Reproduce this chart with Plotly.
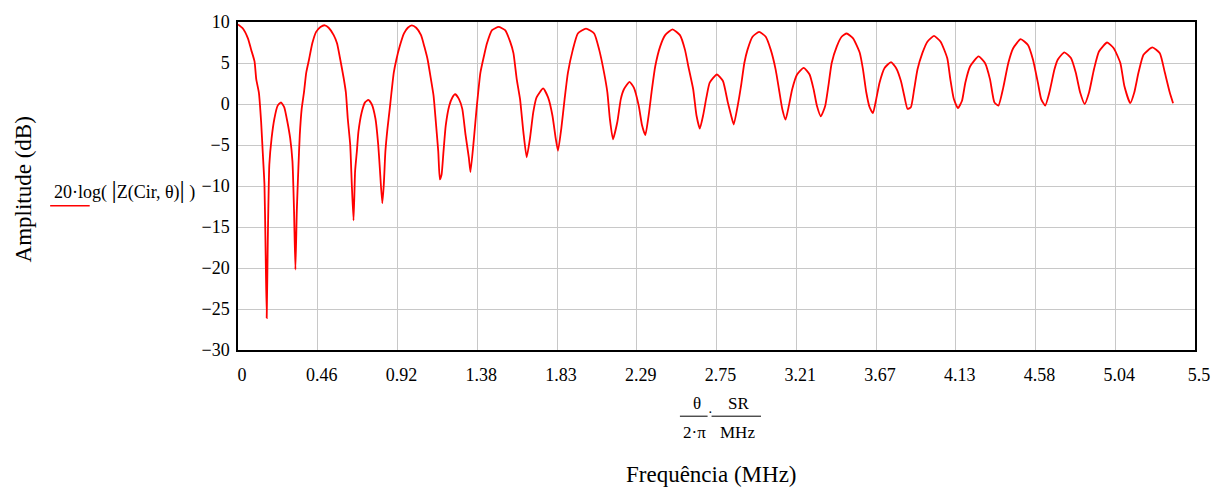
import plotly.graph_objects as go

freq = [0.000, 0.028, 0.057, 0.076, 0.095, 0.105, 0.120, 0.133, 0.142, 0.152, 0.158, 0.165, 0.171, 0.180, 0.193,
        0.209, 0.228, 0.247, 0.266, 0.284, 0.300, 0.313, 0.322, 0.330, 0.338, 0.347, 0.355, 0.366, 0.379, 0.392,
        0.408, 0.427, 0.449, 0.474, 0.499, 0.521, 0.550, 0.569, 0.588, 0.607, 0.620, 0.631, 0.645, 0.654, 0.664,
        0.673, 0.683, 0.692, 0.711, 0.730, 0.749, 0.768, 0.790, 0.806, 0.815, 0.829, 0.838, 0.847, 0.859, 0.872,
        0.882, 0.895, 0.910, 0.929, 0.954, 0.976, 0.999, 1.024, 1.052, 1.071, 1.090, 1.109, 1.124, 1.137, 1.151,
        1.160, 1.170, 1.181, 1.194, 1.214, 1.232, 1.248, 1.270, 1.289, 1.308, 1.327, 1.336, 1.356, 1.371, 1.393,
        1.413, 1.431, 1.460, 1.498, 1.535, 1.564, 1.583, 1.602, 1.621, 1.640, 1.659, 1.678, 1.697, 1.716, 1.754,
        1.782, 1.807, 1.826, 1.839, 1.858, 1.877, 1.896, 1.924, 1.953, 2.000, 2.047, 2.076, 2.104, 2.123, 2.137,
        2.155, 2.180, 2.200, 2.218, 2.250, 2.275, 2.303, 2.322, 2.341, 2.360, 2.379, 2.398, 2.426, 2.455, 2.497,
        2.540, 2.569, 2.588, 2.616, 2.635, 2.654, 2.673, 2.692, 2.711, 2.752, 2.787, 2.815, 2.834, 2.849, 2.872,
        2.891, 2.910, 2.928, 2.957, 2.995, 3.033, 3.062, 3.090, 3.109, 3.128, 3.147, 3.166, 3.185, 3.213, 3.251,
        3.285, 3.308, 3.327, 3.350, 3.375, 3.393, 3.412, 3.441, 3.469, 3.498, 3.535, 3.574, 3.592, 3.611, 3.630,
        3.649, 3.668, 3.687, 3.716, 3.753, 3.782, 3.810, 3.829, 3.848, 3.867, 3.886, 3.905, 3.933, 3.962, 4.000,
        4.038, 4.076, 4.094, 4.114, 4.138, 4.161, 4.180, 4.208, 4.256, 4.293, 4.322, 4.347, 4.370, 4.398, 4.427,
        4.455, 4.498, 4.540, 4.569, 4.597, 4.616, 4.639, 4.663, 4.692, 4.711, 4.749, 4.787, 4.815, 4.840, 4.866,
        4.891, 4.919, 4.948, 4.995, 5.033, 5.071, 5.094, 5.128, 5.151, 5.175, 5.204, 5.255, 5.298, 5.327, 5.355,
        5.374]

amp_db = [9.7, 9.2, 8.0, 6.6, 5.2, 3.0, 1.4, -2.2, -5.8, -9.8, -17.0, -26.1, -17.0, -7.4, -4.2,
          -1.8, -0.2, 0.2, -0.4, -2.2, -4.2, -7.0, -13.0, -20.2, -13.0, -7.8, -3.8, -0.6, 1.4, 3.8,
          5.4, 7.4, 8.8, 9.4, 9.6, 9.3, 8.4, 7.4, 5.4, 3.2, 1.4, -1.8, -5.0, -9.8, -14.2,
          -8.2, -5.8, -3.4, -1.0, 0.2, 0.5, 0.0, -1.8, -5.0, -7.8, -12.1, -9.8, -5.8, -3.0, -0.6,
          1.4, 3.8, 5.4, 7.0, 8.6, 9.3, 9.6, 9.3, 8.4, 7.0, 5.4, 3.0, 1.0, -2.2, -5.8,
          -9.2, -8.6, -5.8, -2.6, -0.2, 0.8, 1.2, 0.6, -0.6, -3.8, -6.6, -8.3, -4.2, -0.6, 3.8,
          5.8, 7.4, 9.0, 9.4, 9.0, 7.6, 6.2, 3.0, 0.6, -3.4, -6.5, -4.2, -1.0, 0.8, 1.9,
          0.8, -1.4, -4.2, -5.7, -3.0, 0.6, 3.8, 6.6, 8.6, 9.2, 8.6, 6.6, 3.8, 1.4, -1.8,
          -4.3, -2.2, 0.6, 1.8, 2.7, 2.0, -0.2, -2.6, -3.8, -1.4, 1.8, 4.6, 7.0, 8.4, 9.1,
          8.4, 6.6, 4.6, 1.8, -1.4, -3.0, -1.4, 0.8, 2.6, 3.6, 2.8, 0.2, -1.4, -2.5, -0.2,
          2.2, 5.0, 6.6, 8.2, 8.8, 8.2, 6.6, 4.2, 1.8, -0.6, -1.9, -0.2, 1.8, 3.6, 4.4,
          3.6, 1.8, -0.2, -1.5, -0.2, 2.2, 5.0, 7.0, 8.2, 8.6, 8.0, 6.2, 4.2, 1.4, -0.4,
          -1.1, 0.6, 2.6, 4.4, 5.1, 4.4, 2.8, 1.0, -0.6, -0.4, 1.8, 4.2, 6.2, 7.6, 8.3,
          7.6, 5.6, 3.0, 0.6, -0.5, 0.4, 2.6, 4.6, 5.8, 5.0, 3.0, 0.2, -0.2, 2.0, 5.0,
          6.8, 7.9, 7.2, 5.4, 2.6, 0.6, -0.2, 1.4, 4.2, 5.4, 6.3, 5.6, 3.8, 1.4, 0.0,
          1.4, 4.2, 6.4, 7.5, 6.8, 5.0, 2.2, 0.1, 1.4, 3.8, 6.0, 6.9, 6.2, 3.8, 1.4,
          0.1]

x_tick_vals = [0, 0.458333, 0.916667, 1.375, 1.833333, 2.291667, 2.75, 3.208333, 3.666667, 4.125,
               4.583333, 5.041667, 5.5]
x_tick_text = ["0", "0.46", "0.92", "1.38", "1.83", "2.29", "2.75", "3.21", "3.67", "4.13", "4.58", "5.04", "5.5"]
y_tick_vals = [10, 5, 0, -5, -10, -15, -20, -25, -30]
y_tick_text = ["10", "5", "0", "\u22125", "\u221210", "\u221215", "\u221220", "\u221225", "\u221230"]

W, H = 1222, 488
L, R, T, B = 238, 16, 18, 138
PW, PH = W - L - R, H - T - B


def px(x):
    return (x - L) / PW


def py(y):
    return (H - B - y) / PH


FONT = "Liberation Serif, Times New Roman, serif"

fig = go.Figure()
fig.add_trace(go.Scatter(x=freq, y=amp_db, mode="lines",
                         line=dict(color="#ff0000", width=1.8, shape="spline", smoothing=0.5),
                         showlegend=False, hoverinfo="skip"))

axis_common = dict(showline=True, linecolor="black", linewidth=1.5, mirror=True,
                   showgrid=True, gridcolor="#c8c8c8", gridwidth=1, zeroline=False,
                   ticks="", tickfont=dict(family=FONT, size=18, color="black"))

fig.update_xaxes(range=[0, 5.5], tickmode="array", tickvals=x_tick_vals, ticktext=x_tick_text,
                 ticklabelstandoff=8, ticklabelshift=4, **axis_common)
fig.update_yaxes(range=[-30, 10], tickmode="array", tickvals=y_tick_vals, ticktext=y_tick_text,
                 ticklabelstandoff=3, **axis_common)

bar = '<span style="font-size:26px">|</span>'
annotations = [
    dict(x=px(22), y=py(187), text="Amplitude (dB)", textangle=-90,
         font=dict(family=FONT, size=23, color="black")),
    dict(x=px(717), y=py(476), text="Frequência (MHz)",
         font=dict(family=FONT, size=23, color="black")),
    dict(x=px(50), y=py(188), text="20·log( " + bar + "Z(Cir, θ)" + bar + " )", xanchor="left",
         font=dict(family=FONT, size=18, color="black")),
    dict(x=px(702), y=py(404), text="θ", font=dict(family=FONT, size=17, color="black")),
    dict(x=px(744), y=py(404), text="SR", font=dict(family=FONT, size=17, color="black")),
    dict(x=px(700), y=py(433), text="2·π", font=dict(family=FONT, size=17, color="black")),
    dict(x=px(743), y=py(433), text="MHz", font=dict(family=FONT, size=17, color="black")),
    dict(x=px(715.5), y=py(413), text="·", font=dict(family=FONT, size=14, color="black")),
]
for a in annotations:
    a.update(xref="paper", yref="paper", showarrow=False)
    a.setdefault("xanchor", "center")
    a.setdefault("yanchor", "middle")

shapes = [
    dict(type="line", xref="paper", yref="paper", x0=px(48), x1=px(88), y0=py(204), y1=py(204),
         line=dict(color="#ff0000", width=1.5)),
    dict(type="line", xref="paper", yref="paper", x0=px(685), x1=px(713), y0=py(417), y1=py(417),
         line=dict(color="black", width=1)),
    dict(type="line", xref="paper", yref="paper", x0=px(717), x1=px(767), y0=py(417), y1=py(417),
         line=dict(color="black", width=1)),
]

fig.update_layout(width=W, height=H, margin=dict(l=L, r=R, t=T, b=B),
                  paper_bgcolor="white", plot_bgcolor="white",
                  annotations=annotations, shapes=shapes)

fig.write_html("out.html", config={"displayModeBar": False},
               post_script="document.body.style.margin='0';document.body.style.overflow='hidden';")
